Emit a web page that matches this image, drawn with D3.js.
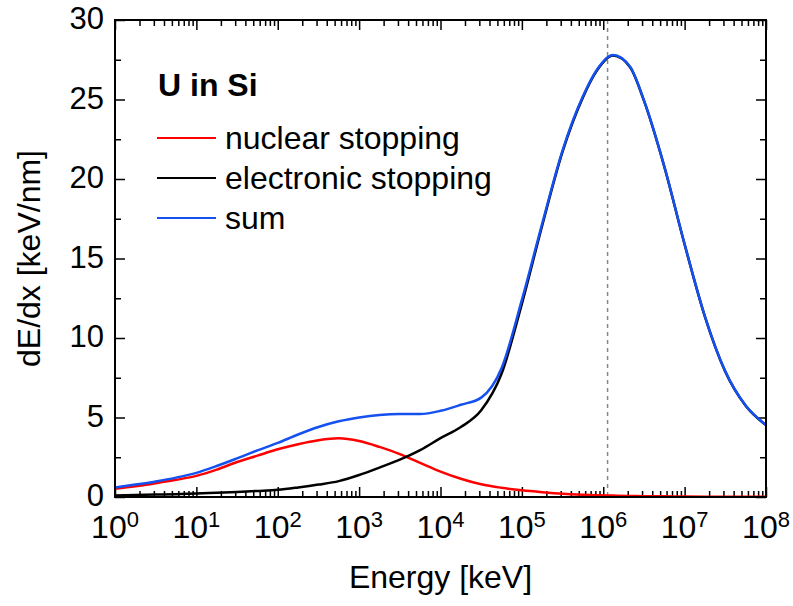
<!DOCTYPE html>
<html>
<head>
<meta charset="utf-8">
<script src="https://cdn.jsdelivr.net/npm/d3@7"></script>
<style>
  body { margin: 0; background: #fff; }
  svg text { font-family: "Liberation Sans", Arial, sans-serif; fill: #000; }
</style>
</head>
<body>
<svg id="chart" width="793" height="606"></svg>
<script>
// energy grid, as exponents of 10 (keV)
const logEnergy = [0, 0.25, 0.5, 0.75, 1, 1.25, 1.5, 1.75, 2, 2.25, 2.5, 2.75, 3, 3.25, 3.5, 3.75,
    4, 4.25, 4.5, 4.75, 5, 5.25, 5.5, 5.75, 5.92, 6.12, 6.33, 6.5, 6.75, 7, 7.25, 7.5, 7.75, 8];

const nuclear = [0.52, 0.68, 0.87, 1.08, 1.33, 1.72, 2.2, 2.6, 3.0, 3.32, 3.57, 3.69, 3.52, 3.15, 2.7, 2.15,
    1.6, 1.15, 0.8, 0.58, 0.42, 0.3, 0.2, 0.14, 0.11, 0.09, 0.07, 0.05, 0.04, 0.03, 0.02, 0.02, 0.01, 0.01];

const electronic = [0.1, 0.12, 0.15, 0.18, 0.22, 0.27, 0.32, 0.38, 0.45, 0.6, 0.78, 1.0, 1.38, 1.85, 2.35, 2.95,
    3.7, 4.4, 5.45, 7.75, 12.15, 17.08, 21.72, 25.13, 26.8, 27.76, 27.03, 24.93, 20.78, 15.88, 11.33, 7.88, 5.74, 4.52];

const total = [0.6, 0.78, 0.98, 1.22, 1.52, 1.95, 2.43, 2.93, 3.4, 3.93, 4.4, 4.76, 5.0, 5.16, 5.22, 5.22,
    5.42, 5.8, 6.25, 8.1, 12.4, 17.2, 21.8, 25.2, 26.86, 27.8, 27.06, 24.95, 20.8, 15.9, 11.35, 7.9, 5.75, 4.53];

const series = [
    { name: 'nuclear stopping', values: nuclear, color: '#ff0000' },
    { name: 'electronic stopping', values: electronic, color: '#000000' },
    { name: 'sum', values: total, color: '#1550f0' }
];

const decades = [0, 1, 2, 3, 4, 5, 6, 7, 8];
const yTicks = [0, 5, 10, 15, 20, 25, 30];
const markerEnergy = 1.13e6;

const margin = { top: 20, right: 27, bottom: 109, left: 115 };
const svg = d3.select('#chart');
const width = 793 - margin.left - margin.right;
const height = 606 - margin.top - margin.bottom;

const x = d3.scaleLog().domain([1, 1e8]).range([0, width]);
const y = d3.scaleLinear().domain([0, 30]).range([height, 0]);

const chart = svg.append('g')
    .attr('transform', `translate(${margin.left},${margin.top})`);

// minor ticks on log axis: 2..9 in each decade
const minorX = [];
decades.slice(0, -1).forEach(d => {
    for (let m = 2; m <= 9; m++) minorX.push(m * Math.pow(10, d));
});
const majorX = decades.map(d => Math.pow(10, d));
const minorY = [2.5, 7.5, 12.5, 17.5, 22.5, 27.5];

function styleAxis(g) {
    g.select('.domain').remove();
    g.selectAll('line').attr('stroke', '#000').attr('stroke-width', 1.5);
}

// bottom + top
[['axisBottom', height], ['axisTop', 0]].forEach(([fn, ty]) => {
    chart.append('g').attr('transform', `translate(0,${ty})`)
        .call(d3[fn](x).tickValues(majorX).tickSize(-10).tickFormat(''))
        .call(styleAxis);
    chart.append('g').attr('transform', `translate(0,${ty})`)
        .call(d3[fn](x).tickValues(minorX).tickSize(-6).tickFormat(''))
        .call(styleAxis);
});

// left + right
[['axisLeft', 0], ['axisRight', width]].forEach(([fn, tx]) => {
    chart.append('g').attr('transform', `translate(${tx},0)`)
        .call(d3[fn](y).tickValues(yTicks).tickSize(-10).tickFormat(''))
        .call(styleAxis);
    chart.append('g').attr('transform', `translate(${tx},0)`)
        .call(d3[fn](y).tickValues(minorY).tickSize(-6).tickFormat(''))
        .call(styleAxis);
});

// dashed marker line
chart.append('line')
    .attr('x1', x(markerEnergy)).attr('x2', x(markerEnergy))
    .attr('y1', 0).attr('y2', height)
    .attr('stroke', '#888')
    .attr('stroke-width', 1.5)
    .attr('stroke-dasharray', '4,4');

const line = d3.line()
    .x((d, i) => x(Math.pow(10, logEnergy[i])))
    .y(d => y(d))
    .curve(d3.curveMonotoneX);

chart.selectAll('.curve')
    .data(series)
    .join('path')
    .attr('class', 'curve')
    .attr('fill', 'none')
    .attr('stroke', d => d.color)
    .attr('stroke-width', 2.5)
    .attr('d', d => line(d.values));

// frame
chart.append('rect')
    .attr('width', width).attr('height', height)
    .attr('fill', 'none')
    .attr('stroke', '#000')
    .attr('stroke-width', 2);

// y tick labels
chart.selectAll('.ylab')
    .data(yTicks)
    .join('text')
    .attr('class', 'ylab')
    .attr('x', -11)
    .attr('y', d => y(d))
    .attr('dy', '0.3em')
    .attr('text-anchor', 'end')
    .style('font-size', '31px')
    .text(d => d);

// x tick labels 10^n
const xlab = chart.selectAll('.xlab')
    .data(decades)
    .join('text')
    .attr('class', 'xlab')
    .attr('x', d => x(Math.pow(10, d)))
    .attr('y', height + 41)
    .attr('text-anchor', 'middle')
    .style('font-size', '32px');
xlab.append('tspan').text('10');
xlab.append('tspan')
    .attr('dy', -11)
    .style('font-size', '22px')
    .text(d => d);

// axis titles
svg.append('text')
    .attr('x', margin.left + width / 2)
    .attr('y', 588)
    .attr('text-anchor', 'middle')
    .style('font-size', '32px')
    .text('Energy [keV]');

svg.append('text')
    .attr('transform', `translate(40,${margin.top + height / 2}) rotate(-90)`)
    .attr('text-anchor', 'middle')
    .style('font-size', '32px')
    .text('dE/dx [keV/nm]');

// legend
svg.append('text')
    .attr('x', 158)
    .attr('y', 96)
    .style('font-size', '32px')
    .style('font-weight', 'bold')
    .text('U in Si');

const legend = svg.append('g')
    .attr('transform', 'translate(157,138)');

const item = legend.selectAll('.item')
    .data(series)
    .join('g')
    .attr('class', 'item')
    .attr('transform', (d, i) => `translate(0,${i * 40})`);

item.append('line')
    .attr('x1', 0).attr('x2', 59)
    .attr('stroke', d => d.color)
    .attr('stroke-width', 2);

item.append('text')
    .attr('x', 68)
    .attr('dy', '0.35em')
    .style('font-size', '32px')
    .text(d => d.name);
</script>
</body>
</html>
